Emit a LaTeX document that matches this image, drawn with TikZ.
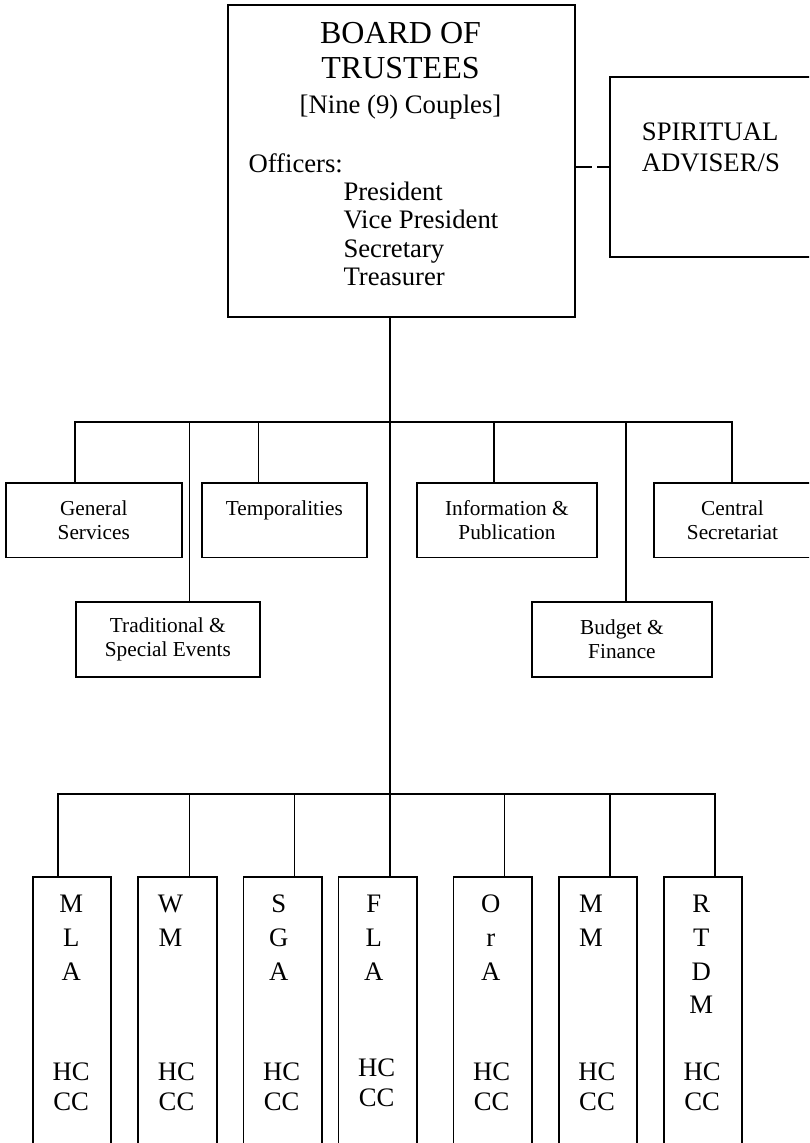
\documentclass[tikz,border=0pt]{standalone}
\usepackage{fontspec}
\setmainfont{Liberation Serif}

\tikzset{
  box/.style={draw, line width=1.9pt, anchor=north west, inner sep=0pt},
  unit/.style={box, align=center, font=\fontsize{21.3}{24.5}\selectfont},
  council/.style={box, minimum width=78.4pt, minimum height=320pt},
  lettering/.style={anchor=north, inner sep=0pt, text width=40pt, align=center, font=\fontsize{26.7}{33.7}\selectfont},
  officer/.style={anchor=base west, inner sep=0pt, font=\fontsize{26.7}{30}\selectfont},
  link/.style={line width=1.7pt},
  bar/.style={line width=2.3pt, line cap=rect}
}

\begin{document}
\begin{tikzpicture}[x=1pt, y=-1pt]
    \path[use as bounding box, fill=white] (0,0) rectangle (809,1143);
    \clip (0,0) rectangle (809,1143);

    \node[box, minimum width=346.4pt, minimum height=312pt] (board) at (227.3,4) {};
    \node[anchor=north, inner sep=0pt, align=center, font=\fontsize{32}{35}\selectfont] (title) at (400.5,22.3)
        {BOARD OF\\TRUSTEES\\{\fontsize{26.7}{30}\selectfont [Nine (9) Couples]}};
    \node[officer] (officers) at (248.3,172) {Officers:};
    \foreach \post [count=\i] in {President, Vice President, Secretary, Treasurer}
        \node[officer] (officer\i) at (343.3,172+28.4*\i) {\post};

    \node[box, minimum width=230pt, minimum height=180.6pt] (spiritual) at (609.3,75.7) {};
    \node[anchor=north west, inner sep=0pt, align=left, font=\fontsize{26.7}{31.5}\selectfont] (adviser) at (641.7,122.4)
        {SPIRITUAL\\ADVISER/S};
    \path[draw, link, dash pattern=on 16.5pt off 5pt] (spiritual.west -| board.east) -- (spiritual.west);

    \node[unit, minimum width=175.6pt, minimum height=74.5pt] (general) at (5,482) {General\\Services};
    \node[unit, minimum width=164.8pt, minimum height=74.5pt] (temporal) at (201,482) {Temporalities\\\mbox{}};
    \node[unit, minimum width=180pt, minimum height=74.5pt] (information) at (416,482) {Information \&\\Publication};
    \node[unit, minimum width=157.6pt, minimum height=74.5pt] (central) at (652.7,482) {Central\\Secretariat};
    \node[unit, minimum width=184.2pt, minimum height=75pt] (traditional) at (74.8,601) {Traditional \&\\Special Events};
    \node[unit, minimum width=180pt, minimum height=75pt] (budget) at (531,601) {Budget \&\\Finance};

    \coordinate (upper left) at (74.8,421.7);
    \coordinate (upper right) at (731.7,421.7);
    \coordinate (lower left) at (57.8,793.8);
    \coordinate (lower right) at (715.2,793.8);
    \coordinate (lower mid) at (390,793.8);
    \path[draw, link] (board.south -| lower mid) -- (lower mid);
    \foreach \x/\branch in {74.8/general, 189.4/traditional, 258.5/temporal, 494.3/information, 626/budget, 731.7/central}
        \path[draw, link] (\x,421.7) -- (\branch.north -| \x,0);
    \path[draw, bar] (upper left) -- (upper right);

    \foreach \grp/\x/\drop/\letters/\dx/\cy in {mla/32/57.8/{M\\L\\A}/0/1062.6, wm/137.3/189.4/{W\\M}/-6/1062.6,
        sga/242.5/294.6/{S\\G\\A}/-3/1062.6, fla/337.5/390/{F\\L\\A}/-3/1058.6, ora/452.5/504.6/{O\\r\\A}/-1/1062.6,
        mm/557.8/609.9/{M\\M}/-6/1062.6, rtdm/663/715.2/{R\\T\\D\\M}/-1/1062.6}{
        \node[council] (\grp) at (\x,876) {};
        \path[draw, link] (\drop,793.8) -- (\grp.north -| \drop,0);
        \node[lettering] (\grp letters) at (\x+39.2+\dx,895) {\letters};
        \node[lettering, font=\fontsize{26.7}{30}\selectfont] (\grp codes) at (\x+39.2,\cy) {HC\\CC};
    }
    \path[draw, bar] (lower left) -- (lower right);
\end{tikzpicture}
\end{document}
